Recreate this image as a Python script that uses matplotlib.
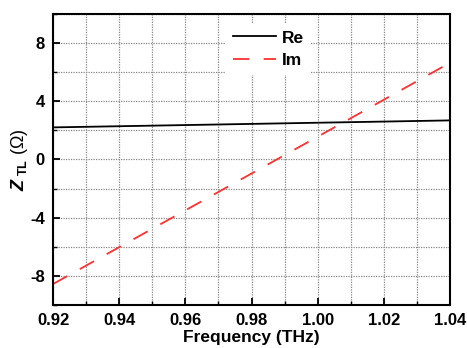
import numpy as np
import matplotlib
matplotlib.use("Agg")
import matplotlib.pyplot as plt
from matplotlib.ticker import MultipleLocator, FormatStrFormatter

freq = [0.92, 0.94, 0.96, 0.98, 1.00, 1.02, 1.04]
re_vals = [2.20, 2.28, 2.36, 2.44, 2.52, 2.60, 2.68]
im_vals = [-8.56, -6.03, -3.50, -0.97, 1.56, 4.10, 6.64]

plt.rcParams['font.family'] = ['Liberation Sans', 'DejaVu Sans']
plt.rcParams['font.weight'] = 'bold'
plt.rcParams['mathtext.fontset'] = 'custom'
plt.rcParams['mathtext.rm'] = 'Liberation Sans'
plt.rcParams['mathtext.it'] = 'Liberation Sans:italic:bold'
plt.rcParams['mathtext.bf'] = 'Liberation Sans:bold'

fig = plt.figure(figsize=(4.67, 3.48), dpi=100)
ax = fig.add_axes([0.1135, 0.1236, 0.8501, 0.8366])

ax.plot(freq, re_vals, color='black', lw=1.3, label='Re')
ax.plot(freq, im_vals, color='#ff3030', lw=1.3, dashes=(9, 8), label='Im')

ax.set_xlim(0.92, 1.04)
ax.set_ylim(-10, 10)
ax.xaxis.set_major_locator(MultipleLocator(0.02))
ax.xaxis.set_minor_locator(MultipleLocator(0.01))
ax.yaxis.set_major_locator(MultipleLocator(4))
ax.yaxis.set_minor_locator(MultipleLocator(2))
ax.xaxis.set_major_formatter(FormatStrFormatter('%.2f'))
ax.yaxis.set_major_formatter(FormatStrFormatter('%d'))

ax.grid(which='both', color='#888888', linestyle=(0, (1, 1)), lw=0.9)
ax.tick_params(which='both', direction='in', labelsize=12)
ax.tick_params(which='major', length=5, width=1.3, pad=6)
ax.tick_params(which='minor', length=3, width=1.0)
for s in ax.spines.values():
    s.set_linewidth(1.5)

ax.set_xlabel('Frequency (THz)', fontsize=12.5, fontweight='bold', labelpad=1)
ax.set_ylabel(r'$Z_{\ \mathrm{TL}}$ (Ω)', fontsize=13, fontweight='normal', labelpad=0)

leg = ax.legend(loc='upper left', bbox_to_anchor=(0.436, 0.967), borderaxespad=0,
                frameon=True, edgecolor='none', facecolor='white', framealpha=1,
                fancybox=False,
                prop={'weight': 'bold', 'size': 12.5}, handlelength=2.5,
                handletextpad=0.3, labelspacing=0.4)

fig.savefig('out.png', dpi=100)
